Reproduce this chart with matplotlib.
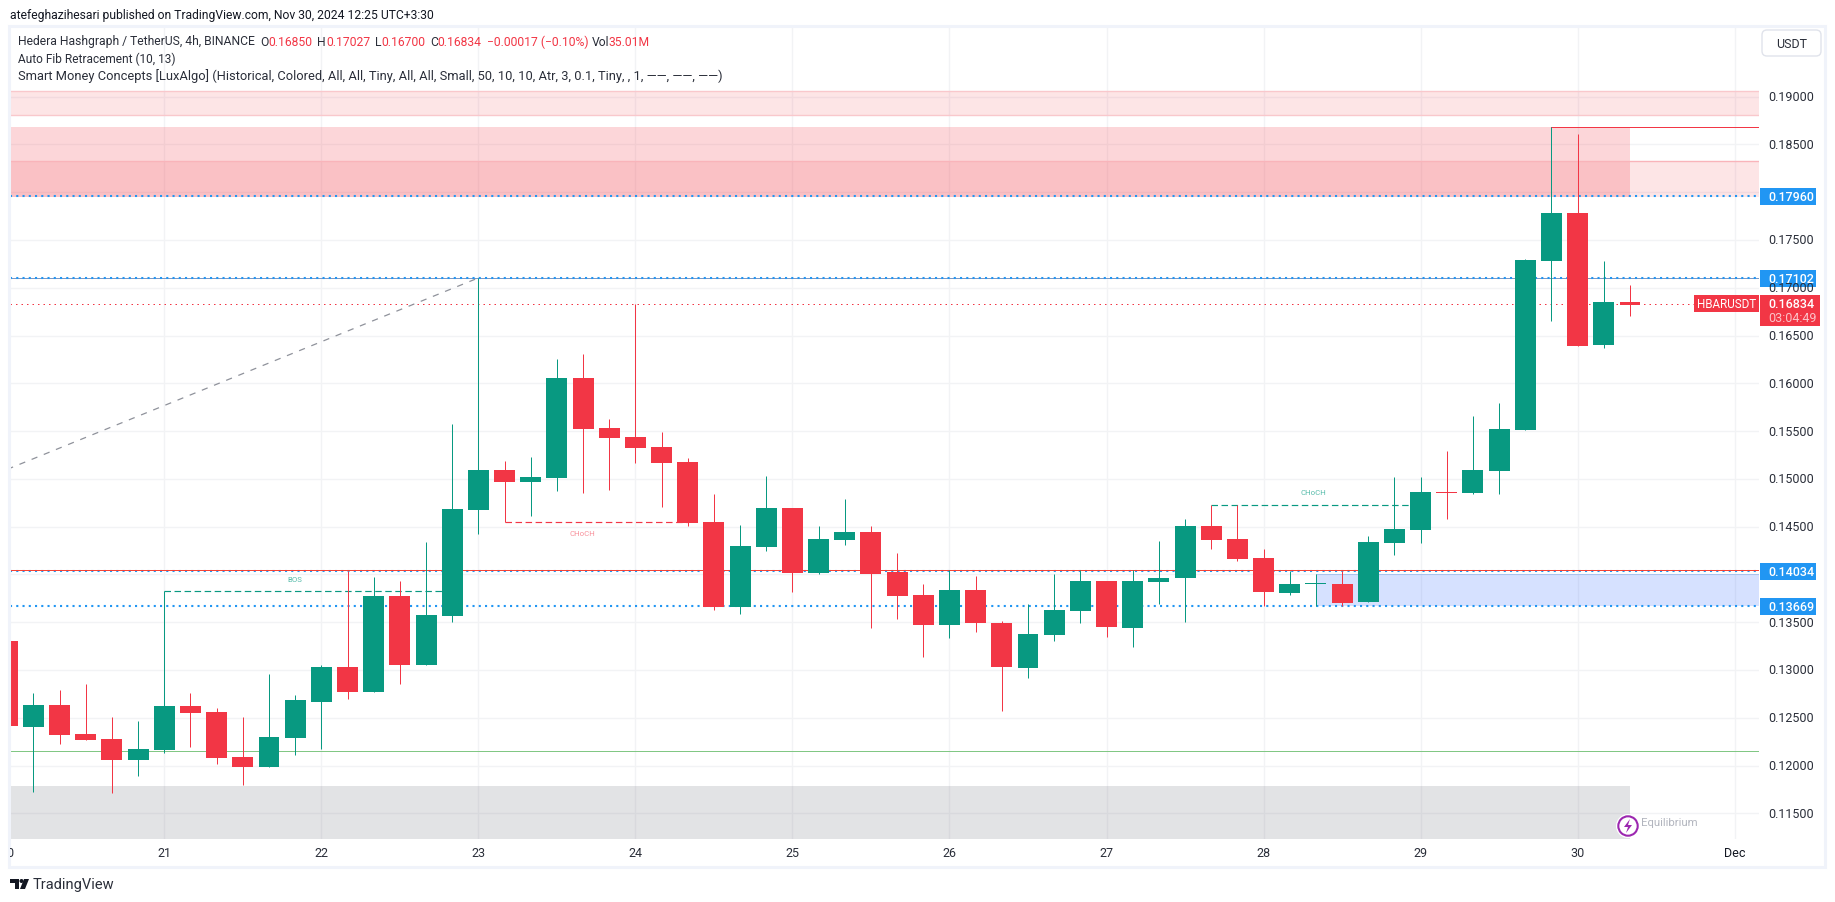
import numpy as np
import matplotlib
matplotlib.use("Agg")
import matplotlib.pyplot as plt
from matplotlib.patches import FancyBboxPatch, Polygon, Rectangle, Circle

plt.rcParams["font.family"] = ["Roboto", "DejaVu Sans"]

GREEN = "#089981"
RED = "#f23645"
BLUE = "#2196f3"
GRID = "#f2f3f5"
TEXT = "#2a2e39"

# 4h candles, bar 0 is the open of the 21st
first_bar = -6
opens = [.13303, .12403, .12634, .12330, .12278, .12058, .12163, .12623, .12560, .12089, .11985,
         .12288, .12665, .13031, .12770, .13774, .13052, .13565, .14675, .15093, .14968, .15010,
         .16056, .15533, .15439, .15334, .15177, .14549, .13659, .14288, .14696, .14016, .14361,
         .14445, .14026, .13785, .13471, .13838, .13492, .13021, .13367, .13618, .13932, .13440,
         .13921, .13963, .14507, .14371, .14172, .13806, .13904, .13900, .13712, .14329, .14465,
         .14866, .14853, .15083, .15512, .17281, .17783, .16401, .16851]
highs = [.13303, .12759, .12791, .12853, .12508, .12466, .13823, .12759, .12602, .12508, .12958,
         .12738, .13052, .14036, .13973, .13931, .14340, .15575, .17103, .15188, .15229, .16255,
         .16307, .15627, .16827, .15491, .15219, .14842, .14518, .15031, .14696, .14507, .14790,
         .14507, .14225, .13900, .14043, .13984, .13513, .13691, .14005, .14043, .13932, .14043,
         .14350, .14580, .14727, .14727, .14266, .14036, .14005, .14036, .14402, .15020, .15020,
         .15292, .15658, .15794, .17301, .18679, .18610, .17281, .17027]
lows = [.12414, .11727, .12225, .12267, .11713, .11891, .12131, .12194, .12016, .11796, .11985,
        .12110, .12173, .12696, .12770, .12853, .13052, .13502, .14424, .14546, .14612, .14874,
        .14853, .14884, .15167, .14706, .14507, .13628, .13586, .14246, .13817, .14005, .14309,
        .13440, .13534, .13136, .13335, .13398, .12571, .12917, .13304, .13492, .13346, .13241,
        .13691, .13502, .14266, .14141, .13666, .13785, .13666, .13670, .13712, .14204, .14329,
        .14580, .14842, .14842, .15512, .16653, .16394, .16370, .16700]
closes = [.12414, .12634, .12320, .12267, .12058, .12173, .12623, .12550, .12079, .11985, .12299,
          .12686, .13031, .12770, .13774, .13052, .13576, .14685, .15093, .14968, .15020, .16056,
          .15522, .15428, .15324, .15167, .14539, .13659, .14298, .14696, .14016, .14371, .14445,
          .14005, .13775, .13471, .13838, .13492, .13032, .13377, .13628, .13932, .13450, .13932,
          .13963, .14507, .14361, .14162, .13816, .13900, .13911, .13701, .14340, .14476, .14863,
          .14856, .15093, .15522, .17291, .17783, .16394, .16851, .16822]

day_labels = ["20", "21", "22", "23", "24", "25", "26", "27", "28", "29", "30", "Dec"]
bars_per_day = 6
price_ticks = [.115, .120, .125, .130, .135, .140, .145, .150, .155, .160, .165, .170, .175, .180, .185, .190]
hidden_price_labels = [.180, .140]

# smart money zones (price low, price high)
premium_band = (.18805, .19056)
supply_zone = (.17950, .18683)
supply_inner = (.17950, .18327)
demand_zone = (.13669, .14000)
equilibrium_zone = (.10000, .11789)
zone_end_bar = 56
demand_start_bar = 44

fib_levels = [.17960, .17102, .14034, .13669]
swing_high_line = .14043
swing_low_line = .12149
top_line = .18679
top_line_start = 53
last_price = .16834

fib_x = [-6, 12]
fib_y = [.15100, .17103]
bos_x, bos_y = [0, 11], .13823
choch_red_x, choch_red_y = [13, 20], .14546
choch_green_x, choch_green_y = [40, 48], .14727

X_MIN, X_MAX = -5.896, 60.93
Y_MIN, Y_MAX = .11231, .19729
LINE = 0.72
DASH = (0, (5.5, 3))

fig = plt.figure(figsize=(18.35, 9.03), dpi=100, facecolor="white")
ax = fig.add_axes([10 / 1835, 1 - 840 / 903, 1749 / 1835, 812 / 903])
ax.set_xlim(X_MIN, X_MAX)
ax.set_ylim(Y_MIN, Y_MAX)
for side in ax.spines.values():
    side.set_visible(False)
ax.set_xticks([])
ax.set_yticks([])

day_bars = [first_bar + bars_per_day * n for n in range(len(day_labels))]
for p in price_ticks:
    ax.axhline(p, color=GRID, lw=1, zorder=0)
for b in day_bars:
    ax.axvline(b, color=GRID, lw=1, zorder=0)

# zones
ax.axhspan(*premium_band, facecolor=RED, alpha=0.13, lw=0, zorder=1)
for edge in premium_band:
    ax.axhline(edge, color="#f9c8cc", lw=1, zorder=1)
ax.add_patch(Rectangle((X_MIN, supply_zone[0]), zone_end_bar - X_MIN, supply_zone[1] - supply_zone[0],
                       facecolor=RED, alpha=0.2, lw=0, zorder=1))
ax.axhspan(*supply_inner, facecolor=RED, alpha=0.13, lw=0, zorder=1)
ax.axhline(supply_inner[1], color="#f9b4ba", lw=1, zorder=1)
ax.add_patch(Rectangle((X_MIN, equilibrium_zone[0]), zone_end_bar - X_MIN,
                       equilibrium_zone[1] - equilibrium_zone[0],
                       facecolor="#787b86", alpha=0.21, lw=0, zorder=1))
ax.add_patch(Rectangle((demand_start_bar, demand_zone[0]), X_MAX - demand_start_bar,
                       demand_zone[1] - demand_zone[0],
                       facecolor="#2962ff", alpha=0.19, edgecolor="none", zorder=1))
ax.plot([demand_start_bar, X_MAX], [demand_zone[1]] * 2, color="#a9c4ee", lw=LINE, zorder=1)

# levels
ax.axhline(fib_levels[1], color="#7c98c4", lw=LINE, zorder=2)
ax.axhline(swing_high_line, color="#f44336", lw=LINE, zorder=2.2)
ax.axhline(swing_low_line, color="#81c784", lw=LINE, zorder=2)
for level in fib_levels:
    ax.axhline(level, color=BLUE, lw=1.5, ls=(0, (1, 2)), zorder=2.1)
ax.axhline(last_price, color=RED, lw=LINE, ls=(0, (1.5, 4)), zorder=2)
ax.plot([top_line_start, X_MAX], [top_line, top_line], color=RED, lw=LINE, zorder=2)
ax.plot(fib_x, fib_y, color="#8f929b", lw=0.9, ls=(0, (5, 5.5)), zorder=2)

ax.plot(bos_x, [bos_y, bos_y], color=GREEN, lw=0.85, ls=DASH, zorder=2)
ax.plot(choch_red_x, [choch_red_y, choch_red_y], color=RED, lw=0.85, ls=DASH, zorder=2)
ax.plot(choch_green_x, [choch_green_y, choch_green_y], color=GREEN, lw=0.85, ls=DASH, zorder=2)
ax.text(5, .13950, "BOS", color="#57bcab", fontsize=5.6, ha="center", va="center")
ax.text(15.96, .14433, "CHoCH", color="#f8909a", fontsize=5.6, ha="center", va="center")
ax.text(43.9, .14861, "CHoCH", color="#57bcab", fontsize=5.6, ha="center", va="center")

# candles
o = np.array(opens)
c = np.array(closes)
bars = np.arange(first_bar, first_bar + len(o))
colors = [GREEN if cl >= op else RED for op, cl in zip(o, c)]
ax.vlines(bars, lows, highs, colors=colors, lw=LINE, zorder=3, snap=True)
ax.bar(bars, np.abs(c - o), bottom=np.minimum(o, c), width=0.8, color=colors, lw=0, zorder=3.1)

# everything around the chart is placed in picture pixels
ov = fig.add_axes([0, 0, 1, 1], facecolor="none")
ov.set_xlim(0, 1835)
ov.set_ylim(903, 0)
ov.axis("off")
ov.set_zorder(5)


def px_y(price):
    return 840 - (price - Y_MIN) / (Y_MAX - Y_MIN) * 812


def px_x(bar):
    return 10 + (bar - X_MIN) / (X_MAX - X_MIN) * 1749


# frame
ov.add_patch(Rectangle((9, 27), 1816, 841, fill=False, edgecolor="#f0f3fa", lw=2.2))
ov.text(10, 15, "atefeghazihesari published on TradingView.com, Nov 30, 2024 12:25 UTC+3:30",
        fontsize=8.7, color="#131722", va="center")

# legend
ov.text(18, 42, "Hedera Hashgraph / TetherUS, 4h, BINANCE", fontsize=8.7, color=TEXT, va="center")
for x, s, col in [(260.7, "O", TEXT), (268, "0.16850", RED), (317, "H", TEXT), (326, "0.17027", RED),
                  (374.5, "L", TEXT), (381.6, "0.16700", RED), (430, "C", TEXT), (437.8, "0.16834", RED),
                  (487, "\u22120.00017 (\u22120.10%)", RED), (592, "Vol", TEXT), (608.7, "35.01M", RED)]:
    ov.text(x, 42, s, fontsize=8.7, color=col, va="center")
ov.text(18, 59, "Auto Fib Retracement (10, 13)", fontsize=8.6, color=TEXT, va="center")
ov.text(18, 76, "Smart Money Concepts [LuxAlgo] (Historical, Colored, All, All, Tiny, All, All, Small, "
        "50, 10, 10, Atr, 3, 0.1, Tiny, , 1, \u2014\u2014, \u2014\u2014, \u2014\u2014)",
        fontsize=9.25, color=TEXT, va="center")

# axis labels
for p in price_ticks:
    if p not in hidden_price_labels:
        ov.text(1768, px_y(p), f"{p:.5f}", fontsize=9, color=TEXT, va="center")
clip = Rectangle((10, 840), 1749, 28, transform=ov.transData)
for b, lab in zip(day_bars, day_labels):
    t = ov.text(px_x(b), 854, lab, fontsize=9, color="#131722" if lab == "Dec" else TEXT,
                ha="center", va="center", clip_on=True)
    t.set_clip_path(clip)

# price labels
for level in fib_levels:
    y = px_y(level)
    ov.add_patch(Rectangle((1760, y - 8.5), 56, 17, facecolor=BLUE, lw=0))
    ov.text(1768, y, f"{level:.5f}", fontsize=9, color="white", va="center", fontweight=500)
y_last = px_y(last_price)
ov.add_patch(Rectangle((1760, y_last - 9), 60, 31, facecolor=RED, lw=0))
ov.add_patch(Rectangle((1694, y_last - 9), 65, 17.5, facecolor=RED, lw=0))
ov.text(1726.5, y_last, "HBARUSDT", fontsize=8.4, color="white", ha="center", va="center")
ov.text(1768, y_last, f"{last_price:.5f}", fontsize=9, color="white", va="center", fontweight=500)
ov.text(1768, y_last + 14, "03:04:49", fontsize=9, color="#fbc3c8", va="center")

# currency button
ov.add_patch(FancyBboxPatch((1765, 34), 53, 20, boxstyle="round,pad=3,rounding_size=5",
                            facecolor="white", edgecolor="#e0e3eb", lw=1))
ov.text(1791.5, 44, "USDT", fontsize=9, color=TEXT, ha="center", va="center")

# equilibrium badge
ov.text(1641, 823, "Equilibrium", fontsize=8.2, color="#b2b5be", va="center")
ov.add_patch(Circle((1628, 827), 12, facecolor="white", edgecolor="none"))
ov.add_patch(Circle((1628, 827), 9.7, facecolor="white", edgecolor="#9c27b0", lw=1.5))
ov.add_patch(Polygon([(1630, 820), (1624, 828), (1628, 828), (1626, 834), (1632, 826), (1628, 826)],
                     closed=True, facecolor="#9c27b0", lw=0))

# TradingView logo
LOGO = "#131722"
ov.add_patch(Polygon([(10, 880), (19, 880), (19, 890), (15, 890), (15, 884), (10, 884)],
                     closed=True, facecolor=LOGO, lw=0))
ov.add_patch(Circle((21.5, 882), 2, facecolor=LOGO, lw=0))
ov.add_patch(Polygon([(24, 880), (29, 880), (25, 890), (20, 890)], closed=True, facecolor=LOGO, lw=0))
ov.text(33, 885, "TradingView", fontsize=10.5, color="#2a2e39", va="center")

fig.savefig("out.png", dpi=100)
